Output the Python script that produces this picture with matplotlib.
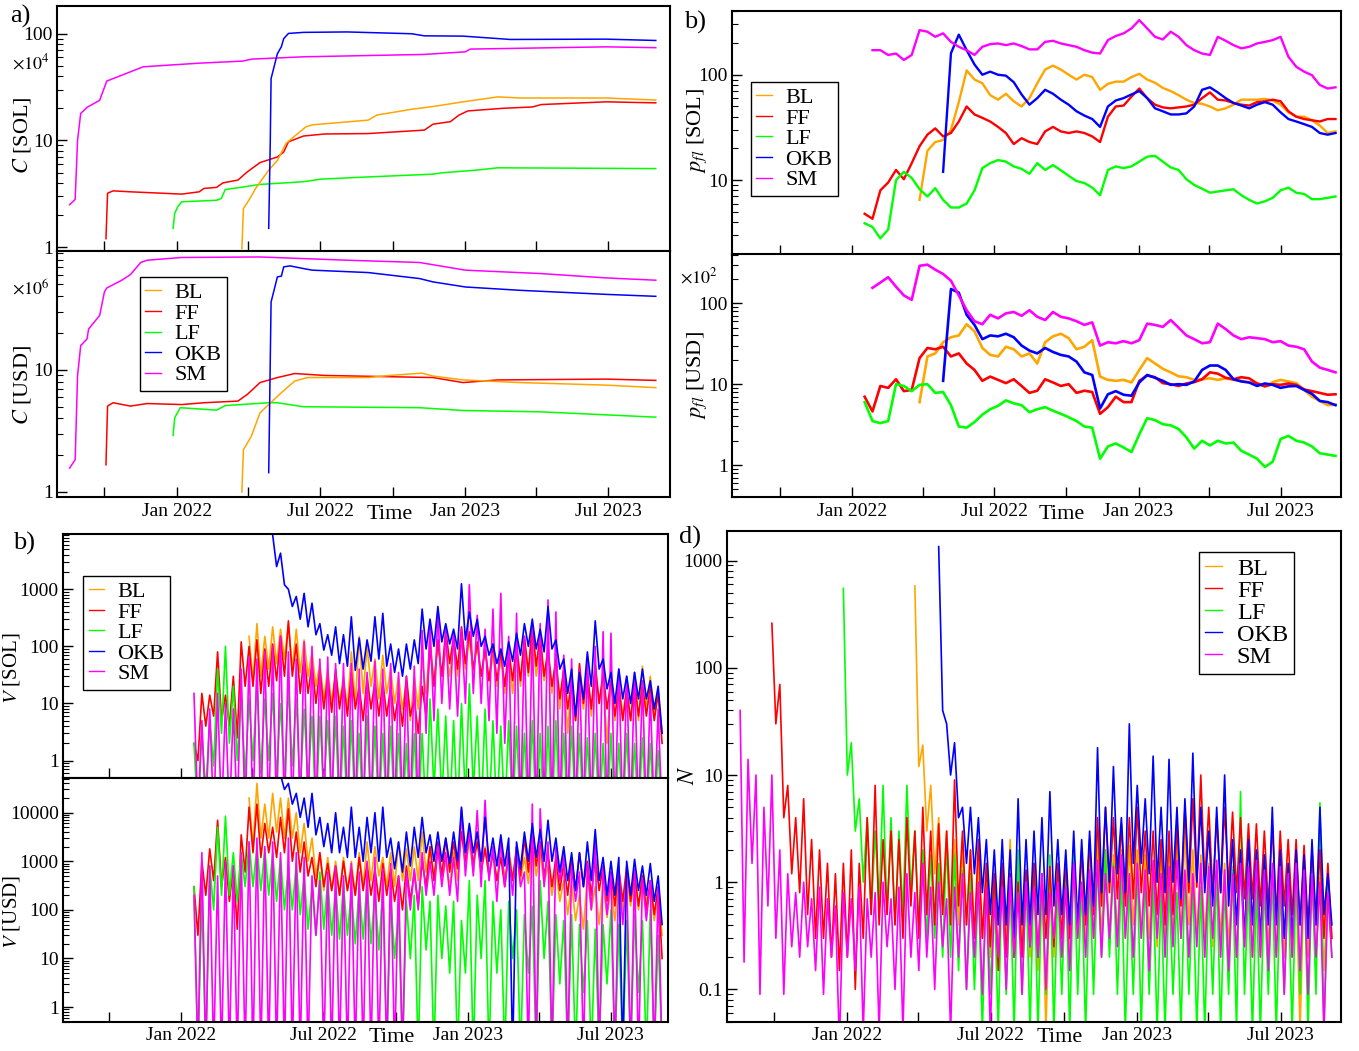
import numpy as np
import pandas as pd
import matplotlib
matplotlib.use("Agg")
import matplotlib.pyplot as plt
import matplotlib.dates as mdates
from matplotlib.lines import Line2D
from matplotlib.ticker import LogLocator, FuncFormatter, NullFormatter

plt.rcParams['font.family'] = ['Liberation Serif', 'DejaVu Serif']
plt.rcParams['mathtext.fontset'] = 'stix'

NAMES = ["BL", "FF", "LF", "OKB", "SM"]
COLORS = {"BL": "#ffa500", "FF": "#ff0000", "LF": "#00ff00", "OKB": "#0000ff", "SM": "#ff00ff"}

# ---- a) C [SOL] in units of 1e4 (date, value) knots
csol_t = {
    "SM": ["2021-08-18", "2021-08-25", "2021-08-28", "2021-09-01", "2021-09-09", "2021-09-25", "2021-09-29",
           "2021-10-04", "2021-11-03", "2021-11-19", "2022-01-29", "2022-03-25", "2022-04-05", "2022-06-10",
           "2022-11-10", "2023-01-01", "2023-01-07", "2023-06-28", "2023-08-30"],
    "FF": ["2021-10-03", "2021-10-05", "2021-10-12", "2021-11-03", "2022-01-07", "2022-01-29", "2022-02-04",
           "2022-02-20", "2022-02-28", "2022-03-19", "2022-03-31", "2022-04-16", "2022-05-08", "2022-05-16",
           "2022-05-22", "2022-06-10", "2022-07-07", "2022-08-31", "2022-11-10", "2022-11-21", "2022-12-13",
           "2022-12-24", "2023-01-04", "2023-02-17", "2023-03-27", "2023-04-07", "2023-06-28", "2023-08-30"],
    "LF": ["2021-12-27", "2021-12-29", "2022-01-02", "2022-01-07", "2022-02-20", "2022-02-26", "2022-03-03",
           "2022-03-19", "2022-04-16", "2022-06-10", "2022-07-02", "2022-08-31", "2022-11-21", "2022-12-02",
           "2023-01-15", "2023-02-11", "2023-08-30"],
    "BL": ["2022-03-24", "2022-03-26", "2022-04-02", "2022-04-11", "2022-04-27", "2022-05-08", "2022-05-19",
           "2022-05-30", "2022-06-13", "2022-06-21", "2022-08-31", "2022-09-11", "2022-10-25", "2022-11-21",
           "2022-12-29", "2023-02-11", "2023-03-11", "2023-06-28", "2023-08-30"],
    "OKB": ["2022-04-27", "2022-04-29", "2022-04-30", "2022-05-08", "2022-05-13", "2022-05-16", "2022-05-22",
            "2022-06-10", "2022-08-04", "2022-10-25", "2022-11-10", "2022-12-29", "2023-02-27", "2023-06-28",
            "2023-08-30"],
}
csol_v = {
    "SM": [2.5, 2.8, 10, 17.9, 20.4, 23.8, 28.6, 36, 44, 49, 53, 55.4, 57.8, 60.8, 64, 67.7, 71.8, 75.4, 74],
    "FF": [1.2, 3.2, 3.37, 3.3, 3.14, 3.3, 3.55, 3.63, 4.0, 4.25, 5.08, 6.2, 7.0, 7.8, 9.7, 11, 11.5, 11.6,
           12.5, 14.2, 15, 17.3, 18.9, 20, 20.6, 21.7, 23, 22.5],
    "LF": [1.5, 2.07, 2.4, 2.66, 2.75, 2.86, 3.47, 3.6, 3.87, 4.1, 4.34, 4.55, 4.83, 4.97, 5.27, 5.54, 5.45],
    "BL": [0.97, 2.3, 2.76, 3.6, 5.27, 6.5, 9.4, 11, 13.4, 14, 15.5, 17.3, 19.6, 20.8, 23, 25.6, 25, 25, 23.9],
    "OKB": [1.5, 10, 38, 65, 75.5, 90, 100.7, 103, 104, 100, 95.6, 95, 88.4, 89, 86.5],
}

# ---- a) C [USD] in units of 1e6
cusd_t = {
    "SM": ["2021-08-18", "2021-08-25", "2021-08-28", "2021-09-01", "2021-09-09", "2021-09-11", "2021-09-25",
           "2021-10-01", "2021-10-04", "2021-10-23", "2021-11-03", "2021-11-16", "2021-11-24", "2022-01-07",
           "2022-04-16", "2022-08-04", "2022-11-04", "2023-01-01", "2023-04-07", "2023-06-28", "2023-08-30"],
    "OKB": ["2022-04-27", "2022-04-30", "2022-05-08", "2022-05-13", "2022-05-16", "2022-05-24", "2022-06-10",
            "2022-06-21", "2022-08-31", "2022-11-04", "2022-11-21", "2023-01-01", "2023-03-11", "2023-06-28",
            "2023-08-30"],
    "FF": ["2021-10-03", "2021-10-05", "2021-10-12", "2021-11-03", "2021-11-24", "2022-01-07", "2022-02-04",
           "2022-03-19", "2022-03-31", "2022-04-16", "2022-05-08", "2022-05-30", "2022-07-07", "2022-11-21",
           "2022-12-29", "2023-02-11", "2023-06-28", "2023-08-30"],
    "LF": ["2021-12-27", "2021-12-29", "2022-01-05", "2022-02-20", "2022-03-03", "2022-04-27", "2022-05-08",
           "2022-06-10", "2022-11-04", "2022-12-29", "2023-04-07", "2023-08-30"],
    "BL": ["2022-03-24", "2022-03-26", "2022-04-05", "2022-04-16", "2022-04-27", "2022-05-13", "2022-05-30",
           "2022-06-15", "2022-08-31", "2022-09-27", "2022-11-07", "2022-11-21", "2022-12-29", "2023-03-11",
           "2023-06-28", "2023-08-30"],
}
cusd_v = {
    "SM": [1.57, 1.84, 8.9, 15.8, 17.9, 21.6, 27.9, 43.4, 46.8, 54.2, 60.3, 75.7, 79, 83.2, 84, 79, 75.7,
           65.5, 61.4, 56.6, 54.2],
    "OKB": [1.44, 35.9, 57.7, 58.5, 69.7, 71, 67.5, 65.5, 62.6, 55.9, 52.5, 47.7, 44.8, 41.5, 40],
    "FF": [1.67, 5.05, 5.38, 5.05, 5.3, 5.2, 5.38, 5.55, 6.3, 7.87, 8.65, 9.33, 9.0, 8.65, 7.87, 8.27, 8.4, 8.2],
    "LF": [2.9, 4.05, 4.9, 4.68, 5.1, 5.38, 5.38, 4.99, 4.9, 4.65, 4.53, 4.1],
    "BL": [1.0, 2.22, 2.86, 4.45, 5.2, 6.5, 8.1, 8.65, 8.65, 9.0, 9.4, 8.9, 8.27, 7.87, 7.5, 7.15],
}

# ---- b) p_fl, one value every 10 days from the given start date
pfl_start = {"BL": "2022-03-28", "FF": "2022-01-17", "LF": "2022-01-17", "OKB": "2022-04-27", "SM": "2022-01-27"}
pfl_sol = {
    "SM": [171, 171, 154, 159, 138, 154, 265, 256, 229, 247, 205, 184, 171, 154, 184, 195, 198, 191, 198, 187,
           174, 174, 205, 210, 198, 191, 184, 171, 162, 159, 213, 233, 247, 275, 330, 275, 229, 216, 256, 229,
           191, 171, 159, 154, 229, 210, 191, 178, 184, 198, 205, 213, 229, 148, 119, 107, 99, 80, 74, 76],
    "FF": [4.8, 4.3, 8.0, 9.5, 12.5, 10.2, 14.5, 21, 27, 31, 26, 28, 36, 50, 42, 39, 36, 32, 28, 22,
           25, 23, 22, 29, 32, 29, 28, 29, 28, 26, 23, 40, 50, 51, 62, 74, 60, 52, 49, 48,
           49, 50, 52, 60, 68, 58, 57, 54, 52, 51, 55, 56, 58, 56, 45, 40, 38, 37, 36, 38, 38],
    "LF": [3.9, 3.6, 2.8, 3.4, 10, 12, 10.5, 8.2, 7.0, 8.4, 6.5, 5.5, 5.5, 6.0, 8.0, 13, 14.5, 15.5, 15, 13.5,
           12.8, 11.5, 14.5, 12.5, 13.9, 12.4, 11, 9.8, 9.4, 8.5, 7.2, 12.5, 13.5, 13, 13.5, 15, 16.7, 17, 15, 13.2,
           12.5, 10.2, 9.0, 8.3, 7.6, 7.8, 8.0, 8.2, 7.2, 6.5, 6.0, 6.3, 6.8, 8.0, 8.5, 7.6, 7.4, 6.6, 6.6, 6.8, 7.0],
    "BL": [6.5, 19, 23, 24, 30, 55, 110, 90, 83, 64, 58, 66, 56, 50, 60, 83, 112, 122, 112, 100,
           90, 100, 95, 72, 82, 86, 86, 95, 102, 90, 84, 75, 70, 64, 58, 54, 53, 50, 46, 48,
           52, 58, 58, 58, 59, 57, 52, 44, 40, 40, 37, 33, 28, 29],
    "OKB": [12, 160, 240, 171, 125, 100, 107, 100, 98, 85, 65, 52, 60, 72, 66, 58, 52, 45, 41, 38,
            32, 50, 57, 60, 65, 70, 60, 48, 45, 42, 42, 43, 50, 72, 76, 68, 60, 54, 51, 48,
            52, 55, 52, 44, 38, 36, 34, 32, 28, 27, 28],
}
pfl_usd = {
    "SM": [155, 180, 210, 160, 125, 110, 290, 300, 260, 230, 190, 125, 82, 60, 55, 72, 65, 75, 78, 70,
           82, 68, 62, 78, 68, 65, 60, 54, 58, 30, 33, 32, 34, 32, 35, 56, 54, 51, 62, 50,
           40, 36, 32, 33, 56, 48, 40, 36, 38, 37, 36, 33, 34, 30, 29, 27, 19, 16, 15, 14],
    "FF": [7.0, 4.6, 9.5, 9.0, 11.5, 8.2, 8.5, 21, 28, 27, 29, 22, 24, 18, 15, 11, 12.4, 11.3, 10.3, 11.5,
           9.5, 7.8, 8.3, 11.5, 10.5, 9.5, 10, 7.8, 8.3, 8.0, 4.3, 5.2, 7.0, 6.0, 6.0, 11, 12.8, 12.2, 10.3, 10,
           9.5, 10.2, 10.6, 11.5, 14.0, 13.5, 12, 11.5, 12.2, 11.8, 10.2, 9.4, 10, 9.8, 10.2, 9.8, 8.6, 8.2, 7.8,
           7.4, 7.5],
    "LF": [6.0, 3.5, 3.3, 3.5, 10, 9.5, 8.2, 9.8, 10, 7.8, 8.0, 5.5, 3.0, 2.9, 3.4, 4.2, 4.9, 5.4, 6.3, 5.8,
           5.5, 4.5, 4.9, 5.2, 4.7, 4.3, 3.9, 3.5, 3.0, 2.9, 1.2, 1.7, 1.85, 1.65, 1.45, 2.4, 3.8, 3.6, 3.2, 3.1,
           2.8, 2.2, 1.6, 2.0, 1.75, 2.0, 1.85, 1.9, 1.5, 1.35, 1.2, 0.95, 1.1, 2.1, 2.3, 2.0, 1.9, 1.7, 1.4,
           1.35, 1.3],
    "BL": [6.0, 22, 24, 33, 38, 40, 55, 45, 28, 23, 22, 29, 27, 22, 24, 18, 33, 39, 42, 37,
           27, 29, 35, 12.4, 11.3, 11, 11.3, 10.5, 15, 21, 18, 15.5, 14, 12.5, 12.2, 11.3, 11.5, 11.8, 11.3, 11.8,
           11.3, 11, 10.5, 10.3, 9.4, 10.6, 11.3, 10.8, 10.3, 8.5, 7.0, 6.2, 5.5, 5.6],
    "OKB": [11, 150, 135, 72, 54, 36, 40, 39, 42, 38, 30, 26, 24, 28, 25, 23, 22, 19, 14, 13,
            5.0, 7.5, 8.2, 7.4, 7.2, 10.5, 13, 12, 11, 9.8, 10, 9.8, 10.8, 15, 17, 17, 15, 11.5, 10.8, 10.5,
            9.5, 10.2, 9.8, 9, 9.4, 9.5, 8.5, 7.6, 6.2, 6.0, 5.5],
}

# ---- c) V, 10-day bins: high and low reading per bin
vsol_start = {"BL": "2022-03-26", "FF": "2022-01-15", "LF": "2022-01-15", "OKB": "2022-04-25", "SM": "2022-01-15"}
vsol_hi = {
    "FF": [2, 15, 14, 80, 14, 30, 120, 100, 130, 90, 110, 150, 280, 110, 70, 50, 40, 30, 40, 25,
           35, 20, 30, 25, 25, 20, 15, 30, 12, 20, 100, 130, 200, 150, 220, 180, 120, 90, 110, 80,
           90, 110, 150, 250, 160, 90, 60, 40, 25, 50, 35, 50, 35, 25, 20, 18, 25, 22, 20, 15],
    "BL": [150, 250, 150, 220, 200, 250, 200, 130, 80, 50, 40, 35, 30, 80, 150, 100, 60, 70, 40, 30,
           25, 30, 60, 120, 100, 90, 120, 150, 130, 100, 90, 70, 60, 70, 80, 120, 150, 100, 70, 50,
           40, 30, 30, 40, 45, 30, 25, 25, 20, 30, 45, 30, 15],
    "OKB": [9000, 4300, 1000, 750, 850, 570, 250, 160, 220, 160, 330, 140, 130, 330, 380, 110, 90, 110, 130, 450,
            300, 500, 250, 200, 1250, 400, 300, 150, 110, 90, 120, 170, 250, 300, 200, 500, 130, 60, 40, 35,
            80, 280, 60, 35, 40, 30, 35, 40, 25, 20],
    "SM": [15, 5, 8, 15, 10, 8, 40, 65, 60, 80, 100, 150, 80, 60, 120, 100, 60, 65, 50, 50,
           50, 40, 35, 55, 40, 50, 35, 30, 45, 190, 250, 430, 200, 180, 200, 1200, 350, 200, 450, 850,
           150, 380, 150, 200, 250, 650, 400, 70, 60, 40, 60, 100, 180, 170, 40, 30, 35, 25, 15, 8],
    "LF": [2, 3, 5, 40, 100, 20, 15, 12, 25, 12, 15, 10, 20, 12, 8, 6, 6, 5, 6, 4,
           5, 3, 6, 4, 3, 4, 3, 2, 3, 3, 12, 8, 6, 5, 10, 22, 6, 8, 5, 4,
           5, 4, 3, 5, 3, 4, 5, 3, 4, 3, 2.5, 3, 2, 3, 2, 3, 2, 2.5, 2, 1.5],
}
vsol_lo = {
    "FF": [1, 4, 6, 5, 4, 2.5, 20, 20, 15, 20, 25, 30, 30, 15, 15, 10, 8, 7, 8, 6,
           8, 5, 8, 6, 6, 5, 4, 6, 3, 6, 20, 30, 50, 40, 50, 40, 30, 25, 25, 20,
           25, 25, 35, 45, 30, 20, 12, 8, 5, 10, 8, 10, 8, 6, 5, 5, 6, 6, 5, 2],
    "BL": [25, 30, 40, 50, 60, 40, 35, 30, 20, 12, 10, 10, 8, 10, 15, 20, 12, 15, 10, 8,
           5, 8, 15, 25, 30, 30, 30, 40, 35, 30, 25, 20, 15, 15, 20, 30, 30, 25, 15, 8,
           3, 5, 8, 6, 10, 2, 5, 6, 5, 5, 8, 6, 3],
    "OKB": [2500, 1200, 500, 300, 220, 160, 86, 70, 50, 45, 38, 40, 55, 60, 45, 35, 30, 40, 50, 90,
            100, 120, 110, 90, 130, 150, 100, 70, 50, 45, 55, 70, 100, 90, 80, 90, 40, 15, 6, 12,
            20, 40, 18, 10, 12, 10, 12, 12, 8, 3],
    "SM": [0.1, 0.1, 0.1, 0.1, 0.1, 0.1, 0.1, 0.1, 0.1, 0.1, 0.1, 0.1, 0.1, 0.1, 0.1, 0.1, 0.1, 0.1, 0.1, 0.1,
           0.1, 0.1, 0.1, 0.1, 0.1, 0.1, 0.1, 0.1, 0.1, 3, 5, 10, 8, 6, 10, 15, 10, 5, 3, 2,
           0.1, 0.1, 0.1, 0.1, 0.1, 0.1, 0.1, 0.1, 0.1, 0.1, 0.1, 0.1, 0.1, 0.1, 0.1, 0.1, 0.1, 0.1, 0.1, 0.1],
    "LF": [0.1, 0.3, 0.8, 3, 2, 1, 0.5, 1, 0.6, 1, 0.5, 0.5, 0.8, 0.3, 0.4, 0.1, 0.3, 0.2, 0.1, 0.1,
           0.1, 0.1, 0.1, 0.1, 0.1, 0.1, 0.1, 0.1, 0.1, 0.1, 0.3, 0.2, 0.1, 0.1, 0.2, 0.3, 0.1, 0.1, 0.1, 0.1,
           0.1, 0.1, 0.1, 0.1, 0.1, 0.1, 0.1, 0.1, 0.1, 0.1, 0.1, 0.1, 0.1, 0.1, 0.1, 0.1, 0.1, 0.1, 0.1, 0.1],
}

vusd_start = {"BL": "2022-03-26", "FF": "2022-01-15", "LF": "2022-01-15", "OKB": "2022-05-05", "SM": "2022-01-15"}
vusd_hi = {
    "FF": [300, 1000, 1800, 7000, 1200, 800, 3500, 13000, 15000, 6000, 5000, 8000, 12000, 4000, 2500, 1200, 1500,
           900, 800, 1000, 700, 1200, 900, 700, 900, 700, 500, 800, 600, 1000, 2000, 2500, 3000, 2500, 4000, 3500,
           2500, 1800, 1500, 1200, 1500, 2000, 3000, 5000, 2500, 1500, 1200, 900, 1200, 1500,
           1000, 1200, 800, 600, 700, 800, 600, 500, 400, 300],
    "BL": [20000, 40000, 15000, 25000, 20000, 20000, 10000, 6000, 3000, 1500, 1200, 1000, 1200, 1000, 1500, 2500,
           2000, 1200, 1500, 2500, 1800, 2000, 4000, 2000, 1500, 1000, 1500, 4000, 2500, 3000, 2000, 1500, 1800,
           2000, 1500, 1200, 2500, 1500, 800, 700, 400, 350, 200, 500, 300, 350, 300, 450, 500, 450, 600, 300, 200],
    "OKB": [60000, 40000, 25000, 20000, 25000, 8000, 6000, 10000, 5000, 13000, 5000, 8000, 10000, 13000, 3000,
            2500, 4000, 5000, 8000, 3500, 4000, 3000, 4000, 13000, 6000, 4000, 8000, 3000, 3500, 3000,
            2500, 4000, 6000, 4500, 7000, 3000, 2000, 1500, 1500, 2500, 4500, 1200, 1000, 1200, 1000, 1100,
            800, 900, 500],
    "SM": [200, 1500, 800, 500, 1000, 800, 1500, 2500, 3000, 2000, 2500, 1500, 3000, 1500, 1200, 500, 400, 600,
           800, 500, 900, 600, 1000, 1200, 700, 900, 500, 600, 700, 1500, 1000, 2000, 1500, 1200, 12000, 5000,
           11000, 18000, 2000, 3000, 1500, 2000, 600, 15000, 12000, 2500, 2000, 1500, 800, 600,
           900, 3000, 800, 600, 700, 500, 700, 450, 400, 300],
    "LF": [300, 200, 800, 5000, 8500, 1500, 1500, 2500, 2000, 1800, 1500, 1200, 800, 900, 500, 300, 600, 400,
           300, 350, 250, 300, 400, 250, 300, 200, 100, 150, 200, 300, 150, 200, 120, 150, 60, 400, 200, 400,
           150, 100, 150, 100, 80, 120, 400, 150, 80, 60, 80, 50, 60, 40, 50, 100, 50, 60, 80, 60, 100, 30],
}
vusd_lo = {
    "FF": [30, 200, 400, 300, 150, 40, 600, 1500, 1200, 1500, 1200, 1500, 1000, 600, 500, 300, 300, 250, 200, 250,
           200, 250, 200, 150, 200, 150, 100, 150, 120, 300, 400, 500, 600, 700, 1000, 900, 600, 500, 400, 300,
           400, 500, 600, 800, 500, 300, 250, 200, 250, 300, 200, 250, 150, 120, 150, 150, 120, 100, 80, 10],
    "BL": [2000, 3000, 3000, 4000, 3000, 3000, 1500, 1000, 500, 250, 250, 200, 250, 200, 300, 400, 500, 300,
           300, 400, 400, 400, 600, 500, 400, 300, 400, 800, 600, 700, 500, 400, 400, 450, 400, 350, 500, 350,
           200, 150, 80, 60, 40, 100, 50, 70, 60, 100, 120, 100, 150, 60, 30],
    "OKB": [30000, 15000, 8000, 5000, 3500, 2000, 1500, 1500, 1200, 1200, 1000, 1500, 1000, 1200, 700, 600,
            800, 1200, 1500, 1000, 1000, 900, 1000, 1500, 1500, 1000, 1000, 800, 800, 0.1,
            700, 1000, 1200, 1000, 1000, 600, 400, 250, 300, 400, 400, 200, 200, 0.1, 200, 250, 200, 150, 50],
    "SM": [0.1, 0.1, 0.1, 0.1, 0.1, 0.1, 0.1, 0.1, 0.1, 0.1, 0.1, 0.1, 0.1, 0.1, 0.1, 30, 0.1, 0.1, 0.1, 0.1,
           0.1, 0.1, 0.1, 0.1, 0.1, 0.1, 0.1, 100, 100, 200, 200, 300, 200, 150, 500, 500, 300, 400, 150, 300,
           200, 300, 0.1, 0.1, 300, 0.1, 400, 0.1, 150, 0.1, 100, 0.1, 80, 0.1, 50, 0.1, 0.1, 60, 0.1, 0.1],
    "LF": [0.1, 0.1, 100, 200, 200, 150, 300, 300, 250, 200, 150, 100, 100, 80, 40, 30, 40, 30, 25, 30,
           20, 25, 20, 15, 0.1, 10, 0.1, 10, 0.1, 15, 0.1, 10, 5, 0.1, 5, 0.1, 10, 0.1, 5, 0.1,
           10, 0.1, 5, 0.1, 10, 0.1, 3, 0.1, 0.1, 2, 0.1, 0.1, 3, 0.1, 0.1, 0.1, 2, 0.1, 0.1, 0.1],
}

# ---- d) N, 10-day bins: high and low reading per bin
n_start = {"BL": "2022-03-25", "FF": "2021-09-26", "LF": "2021-12-25", "OKB": "2022-04-24", "SM": "2021-08-17"}
n_hi = {
    "SM": [40, 14, 10, 5, 10, 2, 1.2, 0.8, 1.0, 0.7, 0.9, 0.7, 0.6, 0.8, 0.7, 0.9, 0.7, 0.8, 1.0, 0.7,
           0.9, 1.2, 0.8, 1.5, 0.9, 1.0, 0.7, 0.9, 1.2, 0.8, 1.0, 0.9, 0.7, 0.9, 1.1, 0.8, 1.0, 0.9, 1.2, 0.8,
           1.0, 0.9, 1.5, 1.0, 1.3, 1.6, 1.2, 1.4, 1.8, 1.2, 1.5, 1.3, 1.6, 1.2, 1.4, 1.6, 1.3, 1.2, 1.5, 1.4,
           1.6, 1.3, 1.2, 1.5, 1.4, 1.6, 1.3, 1.5, 1.4, 1.2, 1.5, 1.3, 1.2, 1.0, 0.8],
    "FF": [260, 70, 8, 4, 6, 2.5, 2.0, 1.5, 1.2, 1.5, 2.0, 1.5, 4, 8, 2.5, 3, 2.5, 4, 3, 5,
           3, 3.5, 3, 9, 3, 2, 2.5, 1.5, 1.2, 1.5, 1.2, 1.0, 1.3, 1.5, 1.2, 1.4, 1.5, 1.6, 1.5, 2.0,
           2.5, 4, 5, 4, 3.5, 4, 5, 3, 3, 2.5, 3, 3.5, 5, 6, 10, 5, 4, 5, 4.5, 4,
           3.5, 3.5, 3, 3.5, 3, 2.5, 2.5, 2.2, 2.0, 2.0, 1.5],
    "LF": [550, 20, 6, 4, 3, 8, 4, 3, 8, 3, 2, 1.8, 1.5, 2.5, 1.8, 1.3, 1.2, 1.0, 1.2, 0.9,
           1.5, 1.0, 2.0, 1.2, 1.5, 1.0, 1.8, 1.0, 1.3, 2.0, 1.0, 1.2, 1.5, 2.0, 1.5, 1.2, 1.0, 1.5, 1.2, 1.0,
           0.8, 1.0, 0.8, 1.2, 1.0, 0.9, 1.0, 1.3, 1.0, 1.3, 7, 1.0, 0.9, 1.0, 1.2, 0.9, 1.0, 1.2, 1.5, 1.3,
           5.5, 1.0],
    "BL": [580, 19, 8, 4, 3, 2.5, 2, 2, 1.5, 1.2, 1.3, 1.5, 2.5, 1.5, 1.2, 1.0, 1.2, 1.0, 1.2, 1.3,
           1.5, 1.8, 2.0, 2.5, 2.0, 1.8, 2.0, 2.2, 2.0, 1.8, 1.5, 1.8, 2.0, 2.5, 3.0, 2.0, 1.8, 1.5, 1.6, 1.5,
           1.4, 1.5, 1.3, 1.2, 1.3, 1.2, 1.4, 1.2, 1.0, 1.2, 1.0, 1.1, 0.9],
    "OKB": [1350, 30, 20, 5, 5, 4, 2.5, 2, 2.5, 2, 6, 2.5, 3, 4, 7, 2.5, 2, 3, 2.5, 3,
            18, 5, 12, 4, 30, 8, 6, 15, 5, 14, 5, 6, 16, 5, 3, 5, 10, 2.5, 2, 2.5,
            2, 1.8, 5, 2, 1.5, 2, 1.8, 2.5, 5, 1.2],
}
n_lo = {
    "SM": [0.18, 1.5, 0.09, 0.6, 0.3, 0.09, 0.25, 0.2, 0.25, 0.15, 0.09, 0.2, 0.03, 0.2, 0.15, 0.04, 0.2, 0.04,
           0.25, 0.1, 0.04, 0.2, 0.15, 0.2, 0.1, 0.25, 0.04, 0.2, 0.1, 0.2, 0.09, 0.04, 0.2, 0.1, 0.2, 0.09,
           0.25, 0.2, 0.1, 0.3, 0.2, 0.15, 0.3, 0.2, 0.3, 0.2, 0.3, 0.25, 0.3, 0.2, 0.3, 0.15, 0.3, 0.2, 0.25,
           0.3, 0.2, 0.25, 0.2, 0.3, 0.2, 0.15, 0.2, 0.25, 0.2, 0.2, 0.15, 0.2, 0.09, 0.2, 0.15, 0.09, 0.2,
           0.04, 0.2],
    "FF": [30, 4, 1.2, 0.8, 0.5, 0.3, 0.3, 0.2, 0.15, 0.2, 0.1, 0.3, 0.5, 0.4, 0.5, 0.4, 0.3, 0.6, 0.3, 0.5,
           0.4, 0.5, 0.4, 0.6, 0.4, 0.3, 0.3, 0.25, 0.15, 0.2, 0.2, 0.2, 0.25, 0.2, 0.3, 0.25, 0.3, 0.3, 0.4, 0.4,
           0.5, 0.6, 0.8, 0.7, 0.6, 0.7, 0.8, 0.6, 0.5, 0.4, 0.5, 0.6, 0.8, 0.9, 1.0, 0.8, 0.8, 0.9, 0.8, 0.7,
           0.7, 0.6, 0.6, 0.5, 0.6, 0.5, 0.4, 0.4, 0.4, 0.3, 0.3],
    "LF": [10, 3, 1.0, 0.5, 0.6, 0.5, 0.4, 0.5, 0.8, 0.4, 0.3, 0.3, 0.2, 0.2, 0.15, 0.1, 0.1, 0.04, 0.09, 0.04,
           0.09, 0.04, 0.09, 0.04, 0.04, 0.09, 0.04, 0.09, 0.04, 0.09, 0.04, 0.09, 0.2, 0.2, 0.09, 0.04, 0.09,
           0.04, 0.09, 0.04, 0.04, 0.09, 0.04, 0.09, 0.04, 0.04, 0.09, 0.04, 0.09, 0.04, 0.09, 0.04, 0.04, 0.09,
           0.04, 0.09, 0.04, 0.09, 0.04, 0.09, 0.04, 0.2],
    "BL": [12, 3, 1.2, 0.6, 0.5, 0.4, 0.4, 0.3, 0.3, 0.2, 0.2, 0.25, 0.2, 0.25, 0.2, 0.15, 0.04, 0.2, 0.25, 0.2,
           0.3, 0.3, 0.3, 0.3, 0.3, 0.3, 0.3, 0.4, 0.3, 0.3, 0.25, 0.3, 0.3, 0.3, 0.4, 0.3, 0.3, 0.25, 0.3, 0.25,
           0.2, 0.25, 0.2, 0.2, 0.25, 0.2, 0.2, 0.2, 0.04, 0.2, 0.2, 0.15, 0.3],
    "OKB": [40, 10, 4, 1.5, 1.2, 0.8, 0.5, 0.4, 0.4, 0.3, 0.4, 0.4, 0.5, 0.5, 0.6, 0.5, 0.4, 0.4, 0.5, 0.6,
            0.8, 1.0, 1.2, 0.8, 1.5, 1.5, 1.2, 1.0, 0.8, 1.0, 0.7, 1.0, 1.0, 0.8, 0.6, 0.8, 0.6, 0.4, 0.3, 0.4,
            0.3, 0.4, 0.4, 0.3, 0.3, 0.4, 0.3, 0.4, 0.5, 0.4],
}

W, H = 1359, 1051


def px_box(l, t, r, b):
    return [l / W, 1 - b / H, (r - l) / W, (b - t) / H]


def zigzag(start, hi, lo, step=10):
    t0 = pd.Timestamp(start)
    t, v = [], []
    for k, (h, l) in enumerate(zip(hi, lo)):
        t.append(t0 + pd.Timedelta(days=step * k + 2.5))
        v.append(h)
        t.append(t0 + pd.Timedelta(days=step * k + 7.5))
        v.append(l)
    return t, v


def style_axis(ax, ylim, xlim, show_xlabels):
    ax.set_yscale('log')
    ax.set_ylim(*ylim)
    ax.set_xlim(pd.Timestamp(xlim[0]), pd.Timestamp(xlim[1]))
    ax.xaxis.set_major_locator(mdates.MonthLocator(bymonth=[1, 7]))
    ax.xaxis.set_minor_locator(mdates.MonthLocator(bymonth=[4, 10]))
    ax.xaxis.set_major_formatter(mdates.DateFormatter('%b %Y'))
    ax.yaxis.set_major_locator(LogLocator(base=10, numticks=12))
    ax.yaxis.set_minor_locator(LogLocator(base=10, subs=np.arange(2, 10), numticks=12))
    ax.yaxis.set_major_formatter(FuncFormatter(lambda v, p: f"{v:g}"))
    ax.yaxis.set_minor_formatter(NullFormatter())
    ax.tick_params(axis='both', which='both', direction='in', top=False, right=False, labelsize=14)
    ax.tick_params(axis='x', which='both', length=7, width=1.0, pad=4, labelbottom=show_xlabels)
    ax.tick_params(axis='y', which='major', length=7, width=1.0, pad=3)
    ax.tick_params(axis='y', which='minor', length=4, width=0.8)
    for s in ax.spines.values():
        s.set_linewidth(1.5)


def add_legend(ax, fx, fy, size):
    handles = [Line2D([], [], color=COLORS[n], lw=1.0) for n in NAMES]
    leg = ax.legend(handles, NAMES, loc='upper left', bbox_to_anchor=(fx, fy), borderaxespad=0,
                    fontsize=size, frameon=True, fancybox=False, framealpha=1, edgecolor='black',
                    handlelength=0.7, handletextpad=0.6, labelspacing=0.0, borderpad=0.25)
    leg.get_frame().set_linewidth(1.0)
    leg.set_zorder(10)


fig = plt.figure(figsize=(W / 100, H / 100), dpi=100)

xl_a = ("2021-08-02", "2023-09-17")
xl_b = ("2021-08-01", "2023-09-16")
xl_v = ("2021-08-04", "2023-09-12")
xl_n = ("2021-08-03", "2023-09-15")

# a) C
ax1 = fig.add_axes(px_box(57, 6, 670, 251))
ax2 = fig.add_axes(px_box(57, 251, 670, 497))
for n in ["SM", "FF", "LF", "BL", "OKB"]:
    ax1.plot(pd.to_datetime(csol_t[n]), csol_v[n], color=COLORS[n], lw=1.1)
    ax2.plot(pd.to_datetime(cusd_t[n]), cusd_v[n], color=COLORS[n], lw=1.1)
style_axis(ax1, (0.92, 182), xl_a, False)
style_axis(ax2, (0.91, 94), xl_a, True)
add_legend(ax2, 0.135, 0.894, 16)

# b) p_fl
ax3 = fig.add_axes(px_box(732, 10.7, 1341, 255))
ax4 = fig.add_axes(px_box(732, 254, 1341, 497.3))
for n in NAMES:
    t = pd.date_range(pfl_start[n], periods=len(pfl_sol[n]), freq='10D')
    ax3.plot(t, pfl_sol[n], color=COLORS[n], lw=1.7)
    t = pd.date_range(pfl_start[n], periods=len(pfl_usd[n]), freq='10D')
    ax4.plot(t, pfl_usd[n], color=COLORS[n], lw=1.9)
style_axis(ax3, (1.95, 405), xl_b, False)
style_axis(ax4, (0.40, 406), xl_b, True)
add_legend(ax3, 0.031, 0.708, 16)

# c) V
ax5 = fig.add_axes(px_box(63, 534.3, 668, 777.7))
ax6 = fig.add_axes(px_box(63, 778.3, 668, 1021.7))
for n in ["BL", "FF", "LF", "SM", "OKB"]:
    t, v = zigzag(vsol_start[n], vsol_hi[n], vsol_lo[n])
    ax5.plot(t, v, color=COLORS[n], lw=1.2)
    t, v = zigzag(vusd_start[n], vusd_hi[n], vusd_lo[n])
    ax6.plot(t, v, color=COLORS[n], lw=1.2)
style_axis(ax5, (0.5, 9200), xl_v, False)
style_axis(ax6, (0.5, 51000), xl_v, True)
add_legend(ax5, 0.033, 0.829, 16)

# d) N
ax7 = fig.add_axes(px_box(727, 530.7, 1341, 1021.7))
for n in ["BL", "LF", "FF", "OKB", "SM"]:
    t, v = zigzag(n_start[n], n_hi[n], n_lo[n])
    ax7.plot(t, v, color=COLORS[n], lw=1.2)
style_axis(ax7, (0.05, 1900), xl_n, True)
add_legend(ax7, 0.769, 0.957, 17.5)


def ftext(x, y, s, **kw):
    fig.text(x / W, 1 - y / H, s, **kw)


# panel letters
ftext(10, 16, "a)", fontsize=19, va='center', ha='left')
ftext(684, 22, "b)", fontsize=19, va='center', ha='left')
ftext(13, 543, "b)", fontsize=19, va='center', ha='left')
ftext(679, 537, "d)", fontsize=19, va='center', ha='left')

# multipliers
ftext(12, 63, r"$\times10^{4}$", fontsize=13, va='center', ha='left')
ftext(12, 288, r"$\times10^{6}$", fontsize=13, va='center', ha='left')
ftext(680, 277, r"$\times10^{2}$", fontsize=13, va='center', ha='left')

# y labels
ftext(22, 135, r"$C$ [SOL]", fontsize=16, rotation=90, va='center', ha='center')
ftext(22, 385, r"$C$ [USD]", fontsize=16, rotation=90, va='center', ha='center')
ftext(697, 130, r"$p_{fl}$ [SOL]", fontsize=16, rotation=90, va='center', ha='center')
ftext(697, 375, r"$p_{fl}$ [USD]", fontsize=16, rotation=90, va='center', ha='center')
ftext(12, 668, r"$V$ [SOL]", fontsize=15, rotation=90, va='center', ha='center')
ftext(12, 912, r"$V$ [USD]", fontsize=15, rotation=90, va='center', ha='center')
ftext(689, 775, r"$N$", fontsize=17, rotation=90, va='center', ha='center')

# Time labels
ftext(390, 514, "Time", fontsize=16, va='center', ha='center')
ftext(1062, 514, "Time", fontsize=16, va='center', ha='center')
ftext(392, 1038, "Time", fontsize=16, va='center', ha='center')
ftext(1060, 1037, "Time", fontsize=16, va='center', ha='center')

fig.savefig("out.png", dpi=100)
